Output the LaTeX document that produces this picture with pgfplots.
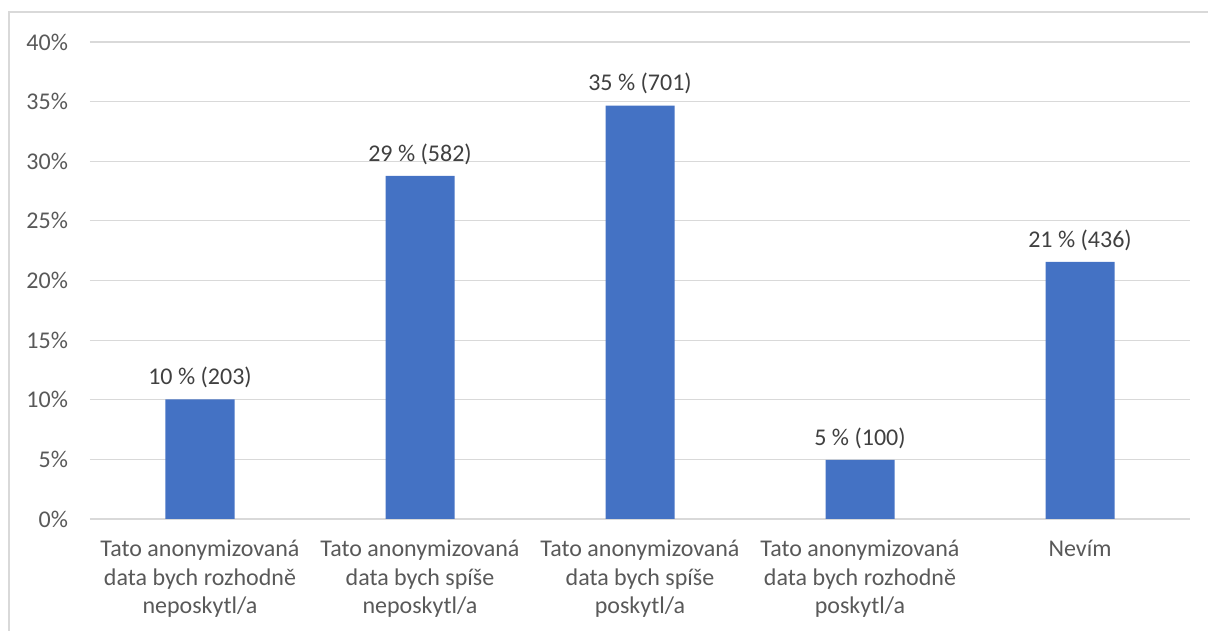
\documentclass[border=0pt]{standalone}
\usepackage{fontspec}
\setmainfont{Carlito}
\usepackage{pgfplots}
\pgfplotsset{compat=1.18}
\definecolor{barblue}{HTML}{4472C4}
\definecolor{gridgray}{HTML}{D9D9D9}
\definecolor{ticktext}{HTML}{595959}
\definecolor{labeltext}{HTML}{404040}
\newcommand\chartfont{\fontsize{18}{21.4}\selectfont}
\begin{document}
\begin{tikzpicture}[x=1pt,y=1pt]
\useasboundingbox (0,0) rectangle (906,473.25);
\draw[gridgray, line width=1.1pt] (6.75,0) -- (6.75,464.25) -- (906,464.25);
\begin{axis}[
  at={(67.5pt,84pt)}, anchor=south west,
  scale only axis, width=825pt, height=357.75pt,
  xmin=-0.5, xmax=4.5, ymin=0, ymax=40,
  axis line style={draw=none},
  ymajorgrids, grid style={gridgray, line width=0.8pt},
  major tick length=0pt,
  ytick={0,5,...,40},
  yticklabels={0\%,5\%,10\%,15\%,20\%,25\%,30\%,35\%,40\%},
  xtick={0,1,2,3,4},
  xticklabels={{Tato anonymizovaná\\data bych rozhodně\\neposkytl/a},
               {Tato anonymizovaná\\data bych spíše\\neposkytl/a},
               {Tato anonymizovaná\\data bych spíše\\poskytl/a},
               {Tato anonymizovaná\\data bych rozhodně\\poskytl/a},
               {Nevím}},
  xticklabel style={align=center, font=\chartfont, text=ticktext, yshift=-12.5pt},
  yticklabel style={font=\chartfont, text=ticktext, xshift=-13pt},
  ybar, bar width=51.75pt,
  nodes near coords, point meta=explicit symbolic,
  every node near coord/.append style={font=\chartfont, text=labeltext, yshift=5pt},
]
\addplot[fill=barblue, draw=none] coordinates {
  (0,10.04) [10 \% (203)]
  (1,28.78) [29 \% (582)]
  (2,34.67) [35 \% (701)]
  (3,4.95)  [5 \% (100)]
  (4,21.56) [21 \% (436)]
};
\end{axis}
\end{tikzpicture}
\end{document}
